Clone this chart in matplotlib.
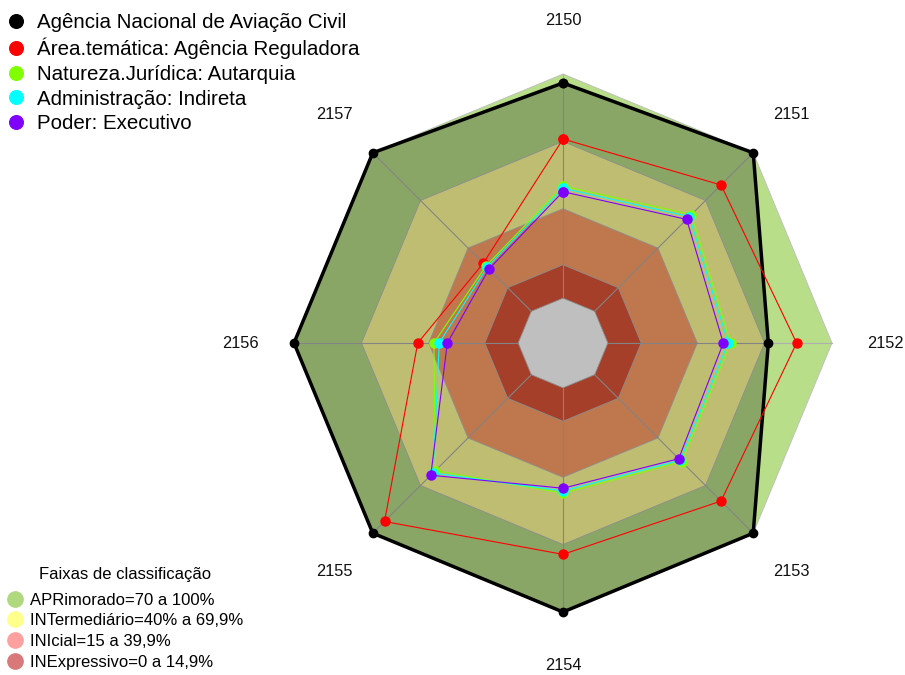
import numpy as np
import matplotlib
matplotlib.use('Agg')
import matplotlib.pyplot as plt
from matplotlib.lines import Line2D

plt.rcParams['font.family'] = ['Liberation Sans', 'DejaVu Sans']

# eixos do radar (sentido horario a partir do topo)
eixos = ['2150', '2151', '2152', '2153', '2154', '2155', '2156', '2157']

series_nomes = ['Agência Nacional de Aviação Civil',
                'Área.temática: Agência Reguladora',
                'Natureza.Jurídica: Autarquia',
                'Administração: Indireta',
                'Poder: Executivo']
series_cores = ['#000000', '#FF0000', '#80FF00', '#00FFFF', '#8000FF']

anac = [96, 100, 71.6, 100, 100, 100, 100, 100]
area_tematica = [71, 79.7, 84.2, 79.7, 74.3, 92.6, 44.8, 30.3]
natureza = [50, 61, 54.8, 54.9, 47, 60.5, 37.6, 28.6]
administracao = [49, 59.7, 53.7, 54, 46, 62, 35.2, 27.8]
poder = [47.5, 58, 51.5, 53, 44.8, 63.4, 31.6, 26.7]

# faixas de classificacao
faixas_titulo = 'Faixas de classificação'
faixas_nomes = ['APRimorado=70 a 100%', 'INTermediário=40% a 69,9%',
                'INIcial=15 a 39,9%', 'INExpressivo=0 a 14,9%']
faixas_limites = [100, 69.9, 39.9, 14.9]
faixas_cores = ['#B8DE8A', '#FFFD99', '#FFA068', '#DD5538']
faixas_leg_cores = ['#AFD87F', '#FFFF8C', '#FFA0A0', '#D87878']

SEG = 5


def raio(v):
    # como no fmsb: o zero fica num circulo interno
    v = np.asarray(v, dtype=float)
    return 1.0 / (SEG + 1) + SEG / (SEG + 1) * v / 100.0


n = len(eixos)
ang = np.arange(n) * 2 * np.pi / n


def xy(vals):
    r = raio(vals)
    x = r * np.sin(ang)
    y = r * np.cos(ang)
    return np.append(x, x[0]), np.append(y, y[0])


W, H = 905, 675
cx, cy, R = 563, 343, 269
fig = plt.figure(figsize=(W / 100, H / 100), dpi=100)
ax = fig.add_axes([0, 0, 1, 1])
ax.set_xlim(-cx / R, (W - cx) / R)
ax.set_ylim(-(H - cy) / R, cy / R)
ax.axis('off')

# fundo com as faixas
for lim, cor in zip(faixas_limites, faixas_cores):
    x, y = xy([lim] * n)
    ax.fill(x, y, facecolor=cor, edgecolor='#BDBDBD', linewidth=0.6, zorder=1)
x, y = xy([0] * n)
ax.fill(x, y, facecolor='white', edgecolor='#BDBDBD', linewidth=0.6, zorder=1)

# linhas dos eixos
r0, r1 = raio(0), raio(100)
for a in ang:
    ax.plot([r0 * np.sin(a), r1 * np.sin(a)], [r0 * np.cos(a), r1 * np.cos(a)],
            color='#B0B0B0', linewidth=0.8, zorder=2)

# rotulos
for a, lab in zip(ang, eixos):
    ax.text(1.2 * np.sin(a), 1.2 * np.cos(a), lab, ha='center', va='center',
            fontsize=11.8, color='#111111')

# orgao
x, y = xy(anac)
ax.fill(x, y, color='black', alpha=0.25, linewidth=0, zorder=3)
ax.plot(x, y, color='black', linewidth=2.5, marker='o', markersize=6, zorder=4)

for vals, cor in zip([area_tematica, natureza, administracao, poder], series_cores[1:]):
    x, y = xy(vals)
    ax.plot(x, y, color=cor, linewidth=0.8, marker='o', markersize=6.5, zorder=5)

# legendas
hs = [Line2D([], [], linestyle='none', marker='o', markersize=9.8, color=c)
      for c in series_cores]
leg1 = fig.legend(hs, series_nomes, loc='upper left', bbox_to_anchor=(0.002, 0.987),
                  frameon=False, fontsize=14.8, handlelength=1.0, handletextpad=0.5,
                  labelspacing=0.28, borderpad=0.2, borderaxespad=0)

hs2 = [Line2D([], [], linestyle='none', marker='o', markersize=11, color=c)
       for c in faixas_leg_cores]
leg2 = fig.legend(hs2, faixas_nomes, loc='lower left', bbox_to_anchor=(0.0033, 0.003),
                  frameon=False, fontsize=12, handlelength=1.0, handletextpad=0.45,
                  labelspacing=0.34, borderpad=0.2, borderaxespad=0)
fig.text(125 / W, 1 - 574 / H, faixas_titulo, ha='center', va='center', fontsize=12)

fig.savefig('out.png', dpi=100)
